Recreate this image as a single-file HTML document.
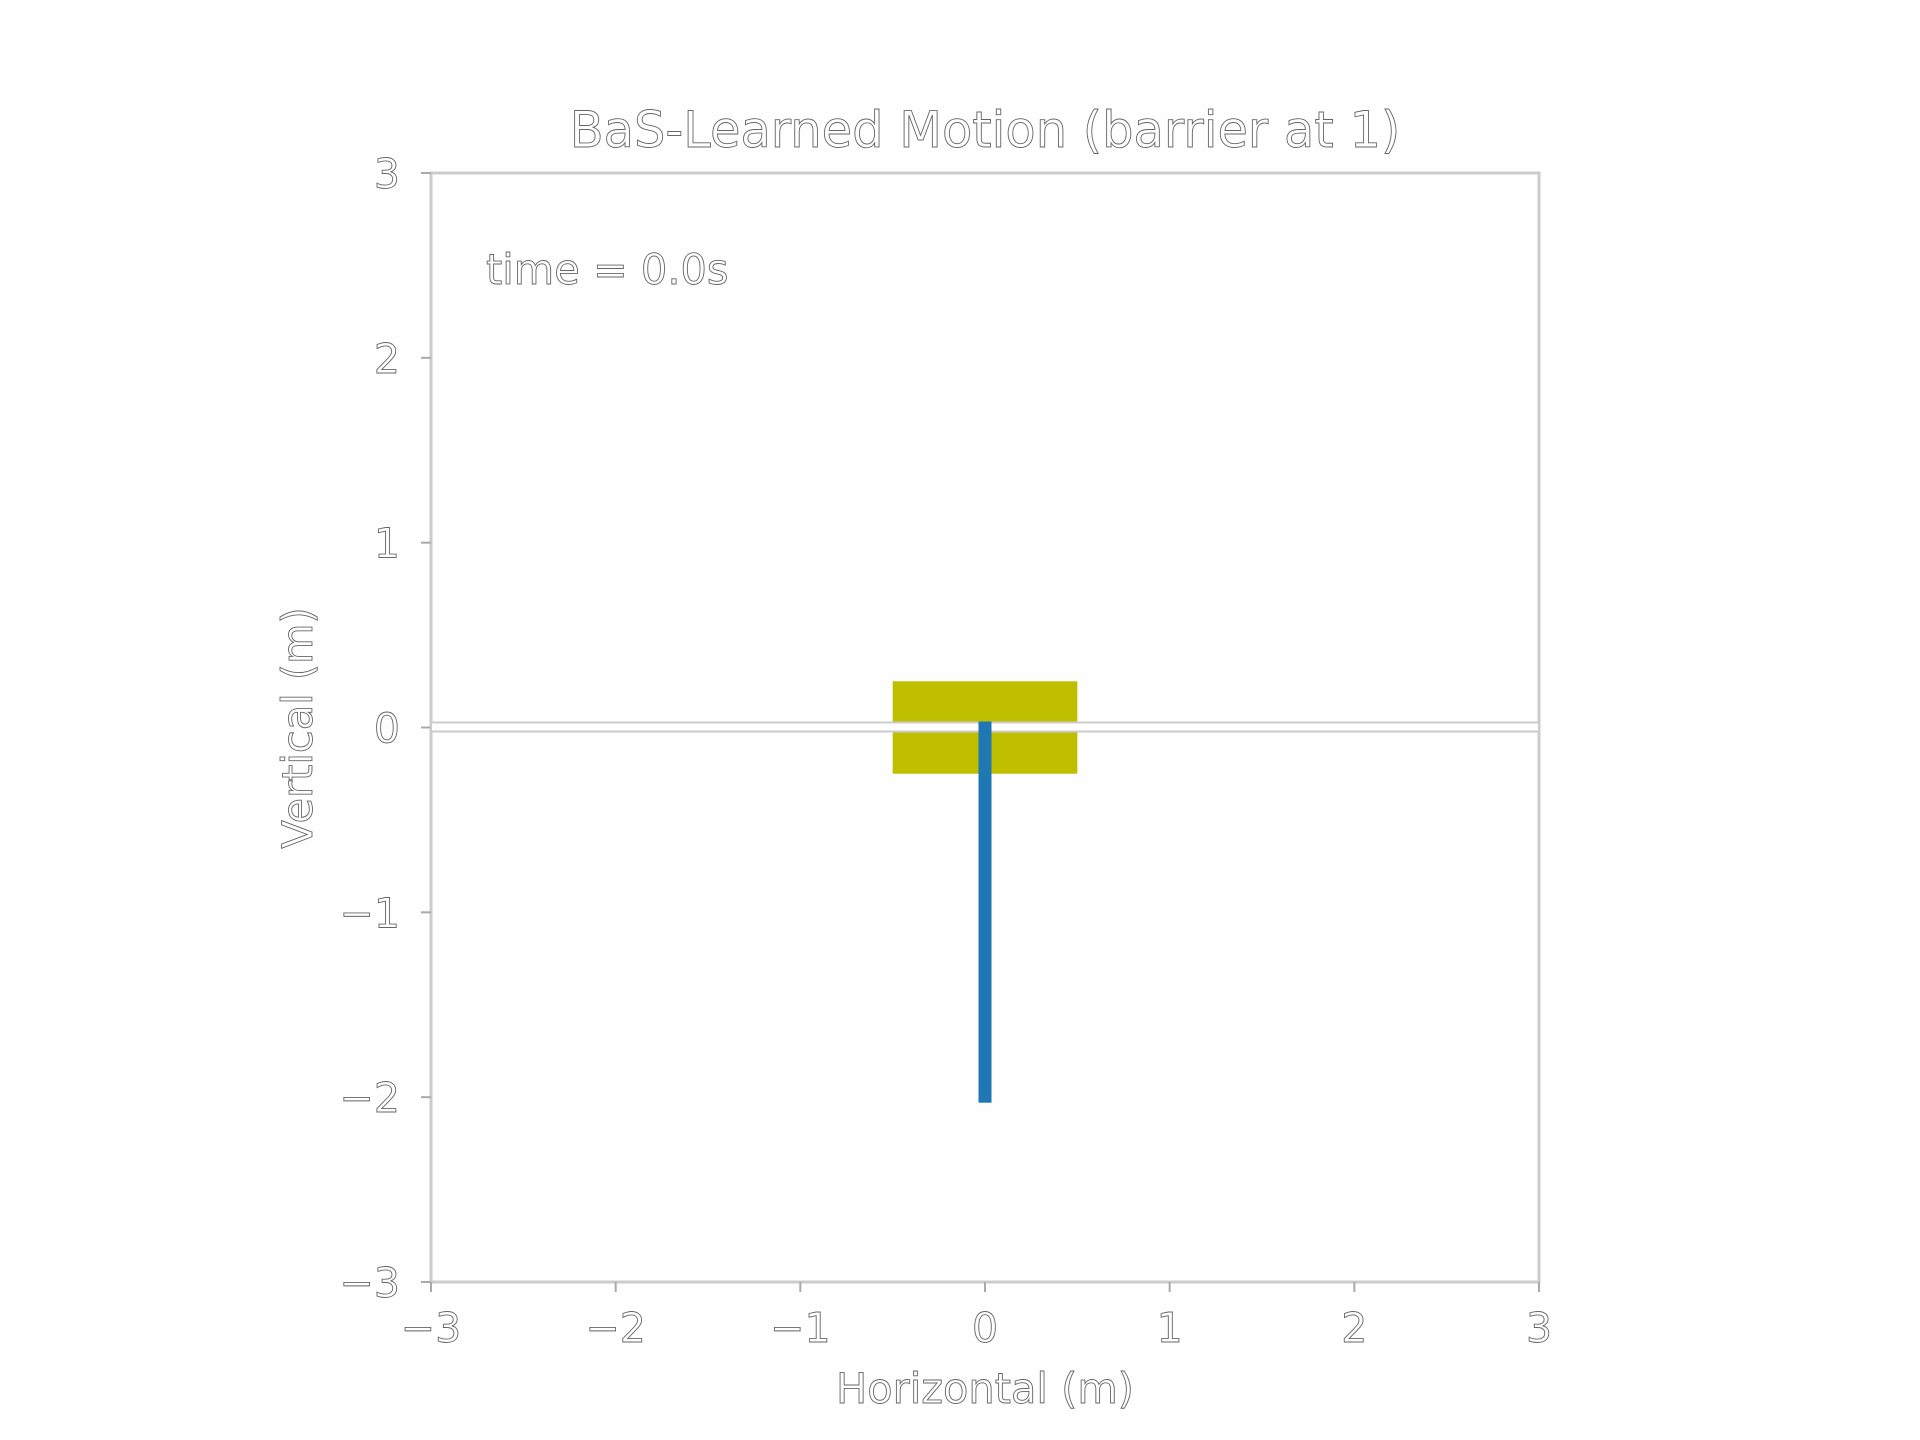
<!DOCTYPE html>
<html><head><meta charset="utf-8"><style>html,body{margin:0;padding:0;background:#fff}svg{display:block}text{font-family:"DejaVu Sans","Liberation Sans",sans-serif;fill:#fff;stroke:#666;stroke-width:0.9}</style></head>
<body>
<svg id="chart" width="1920" height="1440" viewBox="0 0 1920 1440" xmlns="http://www.w3.org/2000/svg">
<rect width="1920" height="1440" fill="#fefefe"/>
<text x="985" y="147" text-anchor="middle" font-size="49.5">BaS-Learned Motion (barrier at 1)</text>
<g id="plot"></g>
<text x="985" y="1403" text-anchor="middle" font-size="41.5">Horizontal (m)</text>
<text transform="translate(312,728) rotate(-90)" text-anchor="middle" font-size="41.5">Vertical (m)</text>
</svg>
<script>
const xTicks=[-3,-2,-1,0,1,2,3];
const yTicks=[-3,-2,-1,0,1,2,3];
const cartX=[0];
const cartHalfWidth=[0.5];
const cartHalfHeight=[0.25];
const poleEndY=[-2.03];
const timeLabel=["time = 0.0s"];
const L=431,R=1539,T=173,B=1282;
const sx=v=>L+(v+3)/6*(R-L);
const sy=v=>B-(v+3)/6*(B-T);
const NS="http://www.w3.org/2000/svg";
const g=document.getElementById('plot');
function mk(tag,attrs){const e=document.createElementNS(NS,tag);for(const k in attrs)e.setAttribute(k,attrs[k]);g.appendChild(e);return e;}
let f=mk('rect',{x:L,y:T,width:R-L,height:B-T,fill:'none',stroke:'#ccc','stroke-width':3});


xTicks.forEach(v=>{
 let t=mk('line',{x1:sx(v),x2:sx(v),y1:B,y2:B+10,stroke:'#aaa','stroke-width':2});
 
 
 let l=mk('text',{x:sx(v),y:1342,'text-anchor':'middle','font-size':41});
 l.textContent=(v<0?'\u2212'+(-v):v);
 
 
});
yTicks.forEach(v=>{
 let t=mk('line',{x1:L-10,x2:L,y1:sy(v),y2:sy(v),stroke:'#aaa','stroke-width':2});
 
 
 let l=mk('text',{x:400,y:sy(v)+15,'text-anchor':'end','font-size':41});
 l.textContent=(v<0?'\u2212'+(-v):v);
 
 
});
let c=mk('rect',{x:sx(cartX[0]-cartHalfWidth[0]),y:sy(cartHalfHeight[0]),width:sx(cartHalfWidth[0])-sx(-cartHalfWidth[0]),height:sy(-cartHalfHeight[0])-sy(cartHalfHeight[0]),fill:'#bfbf00'});


let r=mk('rect',{x:L,y:sy(0)-5,width:R-L,height:9,fill:'#fff',stroke:'#ccc','stroke-width':2});


let p=mk('rect',{x:sx(cartX[0])-6.5,y:sy(0)-6,width:13,height:sy(poleEndY[0])-sy(0)+6,fill:'#1f77b4'});


let tl=mk('text',{x:486,y:284,'font-size':41.5});
tl.textContent=timeLabel[0];


</script>
</body></html>
